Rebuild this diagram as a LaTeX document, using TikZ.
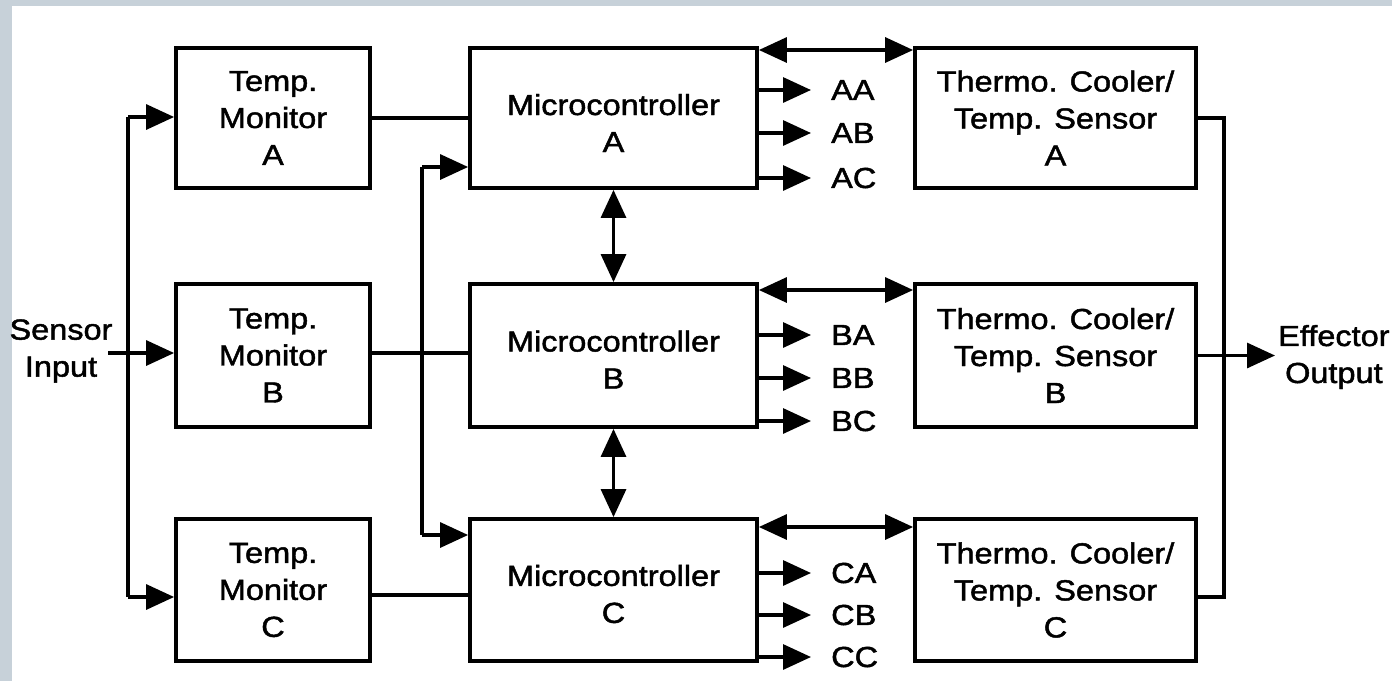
\documentclass[tikz,border=0pt]{standalone}
\usepackage{fontspec}
\setmainfont{Liberation Sans}[FakeStretch=1.12,FakeBold=1.6]
\usetikzlibrary{arrows.meta}
\definecolor{bgc}{RGB}{199,209,217}
\newcommand{\bx}{\fontsize{29}{37}\selectfont}
\tikzset{
 box/.style={draw, line width=3.8pt, inner sep=0pt, align=center, font=\bx},
 con/.style={line width=3.2pt},
 arr/.style={con, -{Triangle[length=28pt,width=25pt]}},
 darr/.style={con, {Triangle[length=28pt,width=25pt]}-{Triangle[length=28pt,width=25pt]}},
 lbl/.style={inner sep=0pt, anchor=west, font=\bx},
 txt/.style={inner sep=0pt, align=center, font=\bx}
}
\begin{document}
\begin{tikzpicture}[x=1pt,y=-1pt]
\useasboundingbox (0,0) rectangle (1392,681);
\fill[bgc] (0,0) rectangle (1392,681);
\fill[white] (12,6) rectangle (1392,681);
% boxes
\node[box, minimum width=194pt, minimum height=140pt] (tA) at (273,118) {Temp.\\Monitor\\A};
\node[box, minimum width=194pt, minimum height=143pt] (tB) at (273,355.5) {Temp.\\Monitor\\B};
\node[box, minimum width=194pt, minimum height=142pt] (tC) at (273,590) {Temp.\\Monitor\\C};
\node[box, minimum width=287pt, minimum height=140pt] (uA) at (613.5,118) {};
\node[box, minimum width=287pt, minimum height=143pt] (uB) at (613.5,355.5) {};
\node[box, minimum width=287pt, minimum height=142pt] (uC) at (613.5,590) {};
\node[txt] (uAt) at ([yshift=-5pt]uA.center) {Microcontroller\\A};
\node[txt] (uBt) at ([yshift=-4pt]uB.center) {Microcontroller\\B};
\node[txt] (uCt) at ([yshift=-4pt]uC.center) {Microcontroller\\C};
\node[box, minimum width=281pt, minimum height=140pt] (cA) at (1055.5,118) {Thermo. Cooler/\\Temp. Sensor\\A};
\node[box, minimum width=281pt, minimum height=143pt] (cB) at (1055.5,355.5) {Thermo. Cooler/\\Temp. Sensor\\B};
\node[box, minimum width=281pt, minimum height=142pt] (cC) at (1055.5,590) {Thermo. Cooler/\\Temp. Sensor\\C};
% sensor input
\node[txt] (sens) at (61,351) {Sensor\\Input};
\coordinate (sin) at (108,353);
\draw[arr] (sin) -- (sin -| tB.west);
\coordinate (b1t) at (128,117);
\coordinate (b1b) at (128,597);
\draw[con] (b1t) -- (b1b);
\draw[arr] (b1t) -- (b1t -| tA.west);
\draw[arr] (b1b) -- (b1b -| tC.west);
% monitor to microcontroller
\coordinate (mA) at (0,118);
\coordinate (mB) at (0,353);
\coordinate (mC) at (0,595);
\draw[con] (tA.east |- mA) -- (uA.west |- mA);
\draw[con] (tB.east |- mB) -- (uB.west |- mB);
\draw[con] (tC.east |- mC) -- (uC.west |- mC);
% second bus
\coordinate (b2t) at (422,167);
\coordinate (b2b) at (422,535);
\draw[con] (b2t) -- (b2b);
\draw[arr] (b2t) -- (b2t -| uA.west);
\draw[arr] (b2b) -- (b2b -| uC.west);
% microcontroller links
\draw[darr] (uA.south) -- (uB.north);
\draw[darr] (uB.south) -- (uC.north);
\coordinate (dA) at (0,50);
\coordinate (dB) at (0,290);
\coordinate (dC) at (0,527);
\draw[darr] (uA.east |- dA) -- (cA.west |- dA);
\draw[darr] (uB.east |- dB) -- (cB.west |- dB);
\draw[darr] (uC.east |- dC) -- (cC.west |- dC);
% outputs
\foreach \n/\y/\s in {AA/90/uA, AB/133/uA, AC/178/uA, BA/335/uB, BB/378/uB, BC/421/uB, CA/573/uC, CB/615/uC, CC/657/uC}{
  \coordinate (o\n) at (811,\y);
  \draw[arr] (\s.east |- o\n) -- (o\n);
  \node[lbl] (l\n) at (831,\y) {\n};
}
% effector
\coordinate (e1) at (1224,118);
\coordinate (e2) at (1224,597);
\draw[con] (cA.east |- e1) -- (e1) -- (e2) -- (cC.east |- e2);
\coordinate (eo) at (1275,355.5);
\draw[arr] (cB.east) -- (eo);
\node[txt, anchor=west] (eff) at (1278,357) {Effector\\Output};
\end{tikzpicture}
\end{document}
